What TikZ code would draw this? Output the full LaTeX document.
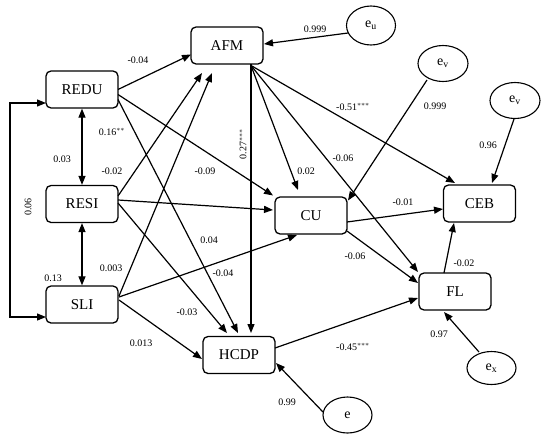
\documentclass[tikz,border=0pt]{standalone}
\usepackage{fontspec}
\setmainfont{Liberation Serif}
\usetikzlibrary{arrows.meta,shapes.geometric}
\tikzset{
  box/.style={draw, rounded corners=5pt, minimum width=72pt, minimum height=37pt, line width=1.3pt, inner sep=0pt, font=\fontsize{15}{15}\selectfont},
  err/.style={draw, ellipse, line width=1.1pt, inner sep=0pt, font=\fontsize{14}{14}\selectfont},
  arr/.style={line width=1.2pt, -{Triangle[length=9pt,width=7pt]}},
  darr/.style={line width=1.2pt, {Triangle[length=9pt,width=7pt]}-{Triangle[length=9pt,width=7pt]}},
  lab/.style={font=\fontsize{10}{10}\selectfont, inner sep=0pt},
}
\begin{document}
\begin{tikzpicture}[x=1pt,y=-1pt]
\useasboundingbox (0,0) rectangle (554,442);
% boxes
\node[box] (AFM)  at (227,45.5) {AFM};
\node[box] (REDU) at (82,89.5) {REDU};
\node[box] (RESI) at (82,204) {RESI};
\node[box] (SLI)  at (82,304.5) {SLI};
\node[box] (HCDP) at (239,355) {HCDP};
\node[box] (CU)   at (311,215.5) {CU};
\node[box] (CEB)  at (479.5,203.5) {CEB};
\node[box] (FL)   at (455,291.5) {FL};
% error terms
\node[err, minimum width=49pt, minimum height=39pt] (eu)  at (371,25.5) {e$_{\mathrm{u}}$};
\node[err, minimum width=50pt, minimum height=36pt] (ev1) at (443,63.5) {e$_{\mathrm{v}}$};
\node[err, minimum width=50pt, minimum height=36pt] (ev2) at (515,100.5) {e$_{\mathrm{v}}$};
\node[err, minimum width=49pt, minimum height=33pt] (ex)  at (491.5,368) {e$_{\mathrm{x}}$};
\node[err, minimum width=49pt, minimum height=36pt] (e)   at (347.5,415) {e};
% paths from REDU
\draw[arr] ([shift={(36,0)}]REDU.center) -- ([shift={(-36,9)}]AFM.center);
\draw[arr] ([shift={(36,5)}]REDU.center) -- ([shift={(-38,-20)}]CU.center);
\draw[arr] ([shift={(36,10)}]REDU.center) -- ([shift={(-1,-22)}]HCDP.center);
% paths from RESI
\draw[arr] ([shift={(36,-8)}]RESI.center) -- ([shift={(-25,27.5)}]AFM.center);
\draw[arr] ([shift={(36,-4)}]RESI.center) -- ([shift={(-38,-5.5)}]CU.center);
\draw[arr] ([shift={(36,-1)}]RESI.center) -- ([shift={(-12,-22)}]HCDP.center);
% paths from SLI
\draw[arr] ([shift={(37,-8.5)}]SLI.center) -- ([shift={(-15,27.5)}]AFM.center);
\draw[arr] ([shift={(37,-7.5)}]SLI.center) -- ([shift={(-14,19.5)}]CU.center);
\draw[arr] ([shift={(37,-4.5)}]SLI.center) -- ([shift={(-37,4)}]HCDP.center);
% paths from AFM
\draw[arr] ([shift={(24,18.5)}]AFM.center) -- ([shift={(12,-22)}]HCDP.center);
\draw[arr] ([shift={(24,20)}]AFM.center) -- ([shift={(-13,-25.5)}]CU.center);
\draw[arr] ([shift={(24,20)}]AFM.center) -- ([shift={(-37,-19.5)}]FL.center);
\draw[arr] ([shift={(24,20)}]AFM.center) -- ([shift={(-24.5,-20.5)}]CEB.center);
% error paths
\draw[arr] ([shift={(-23,7.5)}]eu.center) -- ([shift={(37,-1.5)}]AFM.center);
\draw[arr] ([shift={(-16,16.5)}]ev1.center) -- ([shift={(37,-15)}]CU.center);
\draw[arr] ([shift={(-1,18.5)}]ev2.center) -- ([shift={(12.5,-20.5)}]CEB.center);
\draw[arr] ([shift={(-12.5,-16)}]ex.center) -- ([shift={(-11,20.5)}]FL.center);
\draw[arr] ([shift={(-24.5,-3)}]e.center) -- ([shift={(37,8)}]HCDP.center);
% other paths
\draw[arr] ([shift={(36,6.5)}]CU.center) -- ([shift={(-36.5,5.5)}]CEB.center);
\draw[arr] ([shift={(36,15.5)}]CU.center) -- ([shift={(-37,-8.5)}]FL.center);
\draw[arr] ([shift={(-11,-18.5)}]FL.center) -- ([shift={(-25.5,19.5)}]CEB.center);
\draw[arr] ([shift={(36,-7)}]HCDP.center) -- ([shift={(-37,6.5)}]FL.center);
% covariances
\draw[darr] (REDU.south) -- (RESI.north);
\draw[darr] (RESI.south) -- (SLI.north);
\draw[darr] ([shift={(-36,13.5)}]REDU.center) -- ++(-36,0) |- ([shift={(-36,12.5)}]SLI.center);
% labels
\node[lab] (l1) at (138,60) {-0.04};
\node[lab] (l2) at (112,132) {0.16$^{**}$};
\node[lab] (l3) at (62,159) {0.03};
\node[lab] (l4) at (112,171) {-0.02};
\node[lab] (l5) at (205,171) {-0.09};
\node[lab, rotate=90] (l6) at (243,144) {0.27$^{***}$};
\node[lab, rotate=90] (l7) at (28,207) {0.06};
\node[lab] (l8) at (209,240) {0.04};
\node[lab] (l9) at (223,273) {-0.04};
\node[lab] (l10) at (111,268) {0.003};
\node[lab] (l11) at (53,278) {0.13};
\node[lab] (l12) at (187,312) {-0.03};
\node[lab] (l13) at (141,343) {0.013};
\node[lab] (l14) at (315,29) {0.999};
\node[lab] (l15) at (435,106) {0.999};
\node[lab] (l16) at (353,107) {-0.51$^{***}$};
\node[lab] (l17) at (488,145) {0.96};
\node[lab] (l18) at (343,158) {-0.06};
\node[lab] (l19) at (306,171) {0.02};
\node[lab] (l20) at (403,202) {-0.01};
\node[lab] (l21) at (355,256) {-0.06};
\node[lab] (l22) at (464,263) {-0.02};
\node[lab] (l23) at (439,334) {0.97};
\node[lab] (l24) at (353,347) {-0.45$^{***}$};
\node[lab] (l25) at (287,402) {0.99};
\end{tikzpicture}
\end{document}
